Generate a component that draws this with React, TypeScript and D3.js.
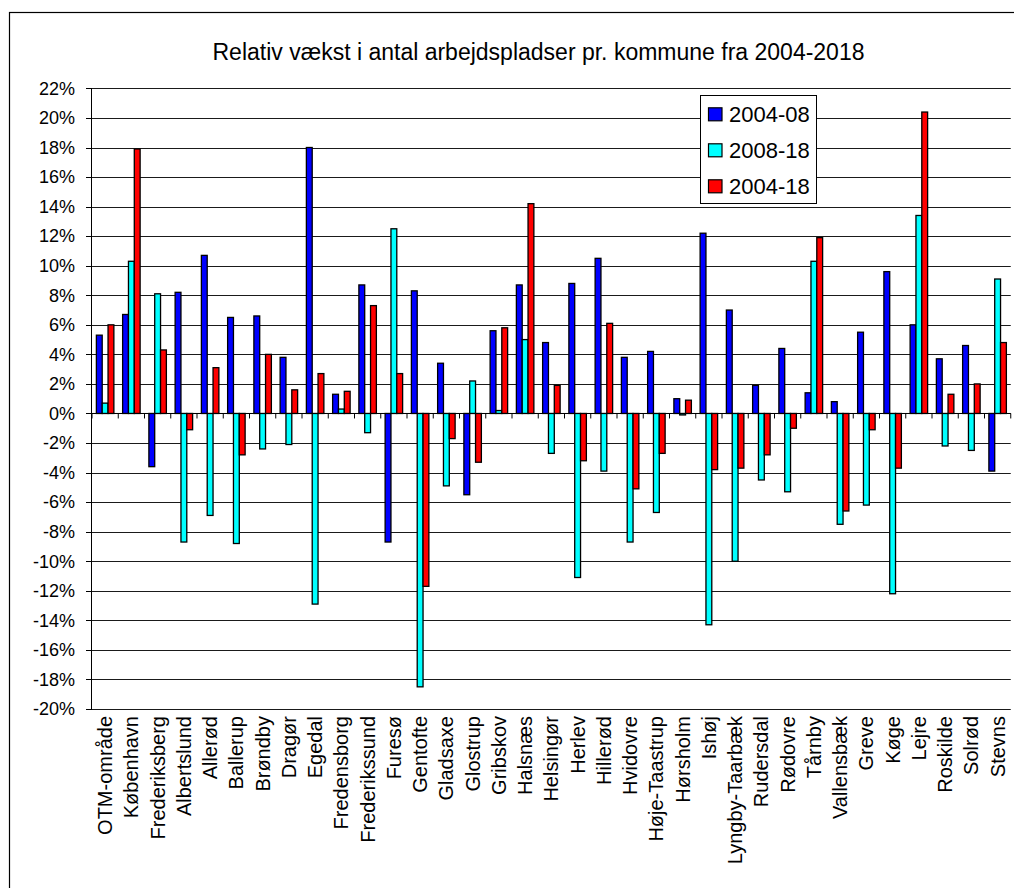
import React from "react";
import * as d3 from "d3";

const categories = [
  "OTM-område", "København", "Frederiksberg", "Albertslund", "Allerød", "Ballerup", "Brøndby",
  "Dragør", "Egedal", "Fredensborg", "Frederikssund", "Furesø", "Gentofte", "Gladsaxe",
  "Glostrup", "Gribskov", "Halsnæs", "Helsingør", "Herlev", "Hillerød", "Hvidovre",
  "Høje-Taastrup", "Hørsholm", "Ishøj", "Lyngby-Taarbæk", "Rudersdal", "Rødovre", "Tårnby",
  "Vallensbæk", "Greve", "Køge", "Lejre", "Roskilde", "Solrød", "Stevns",
];

const s2004_08 = [
  5.3, 6.7, -3.6, 8.2, 10.7, 6.5, 6.6, 3.8, 18.0, 1.3, 8.7, -8.7, 8.3, 3.4, -5.5, 5.6, 8.7, 4.8,
  8.8, 10.5, 3.8, 4.2, 1.0, 12.2, 7.0, 1.9, 4.4, 1.4, 0.8, 5.5, 9.6, 6.0, 3.7, 4.6, -3.9,
];
const s2008_18 = [
  0.7, 10.3, 8.1, -8.7, -6.9, -8.8, -2.4, -2.1, -12.9, 0.3, -1.3, 12.5, -18.5, -4.9, 2.2, 0.2, 5.0, -2.7,
  -11.1, -3.9, -8.7, -6.7, -0.1, -14.3, -10.0, -4.5, -5.3, 10.3, -7.5, -6.2, -12.2, 13.4, -2.2, -2.5, 9.1,
];
const s2004_18 = [
  6.0, 17.9, 4.3, -1.1, 3.1, -2.8, 4.0, 1.6, 2.7, 1.5, 7.3, 2.7, -11.7, -1.7, -3.3, 5.8, 14.2, 1.9,
  -3.2, 6.1, -5.1, -2.7, 0.9, -3.8, -3.7, -2.8, -1.0, 11.9, -6.6, -1.1, -3.7, 20.4, 1.3, 2.0, 4.8,
];

const seriesNames = ["2004-08", "2008-18", "2004-18"];
const seriesColors = ["#0000FF", "#00FFFF", "#FF0000"];
const yTicks = d3.range(-20, 23, 2);
const title = "Relativ vækst i antal arbejdspladser pr. kommune fra 2004-2018";

const FONT = "'Liberation Sans', Arial, Helvetica, sans-serif";

export default function App() {
  const W = 1014;
  const H = 888;
  const left = 92;
  const right = 1010.75;
  const top = 88.4;
  const bottom = 709;

  const y = d3.scaleLinear().domain([-20, 22]).range([bottom, top]);
  const x0 = d3.scaleBand<string>().domain(categories).range([left, right]).paddingInner(0).paddingOuter(0);
  const x1 = d3
    .scaleBand<string>()
    .domain(seriesNames)
    .range([0, x0.bandwidth()])
    .paddingInner(0)
    .paddingOuter(0.75);

  const seriesData = [s2004_08, s2008_18, s2004_18];
  const y0 = y(0);

  return (
    <svg
      width={W}
      height={H}
      style={{ position: "absolute", left: 0, top: 0, background: "#fff" }}
      fontFamily={FONT}
    >
      <rect x={0} y={0} width={W} height={H} fill="#fff" />
      <rect x={9.5} y={12.5} width={1040} height={920} fill="#fff" stroke="#000" strokeWidth={1.2} />

      <text x={538.5} y={60} textAnchor="middle" fontSize={23} fill="#000">
        {title}
      </text>

      {/* gridlines */}
      {yTicks.map((t) => (
        <line
          key={"g" + t}
          x1={left}
          x2={right}
          y1={Math.round(y(t)) + 0.5}
          y2={Math.round(y(t)) + 0.5}
          stroke="#1a1a1a"
          strokeWidth={1}
        />
      ))}

      {/* y axis */}
      <line x1={left - 0.5} x2={left - 0.5} y1={y(22)} y2={y(-20)} stroke="#000" strokeWidth={1} />
      {yTicks.map((t) => (
        <g key={"t" + t}>
          <line
            x1={left - 6}
            x2={left}
            y1={Math.round(y(t)) + 0.5}
            y2={Math.round(y(t)) + 0.5}
            stroke="#000"
            strokeWidth={1}
          />
          <text x={75} y={y(t)} dy="0.35em" textAnchor="end" fontSize={18} fill="#000">
            {t + "%"}
          </text>
        </g>
      ))}

      {/* bars */}
      {categories.map((c, i) => (
        <g key={"c" + i} transform={`translate(${x0(c)},0)`}>
          {seriesData.map((s, k) => {
            const v = s[i];
            const yy = y(Math.max(0, v));
            const h = Math.abs(y(v) - y0);
            return (
              <rect
                key={k}
                x={x1(seriesNames[k])}
                y={yy}
                width={x1.bandwidth()}
                height={h}
                fill={seriesColors[k]}
                stroke="#000"
                strokeWidth={1.3}
              />
            );
          })}
        </g>
      ))}

      {/* category axis at zero */}
      <line x1={left} x2={right} y1={y0} y2={y0} stroke="#000" strokeWidth={1} />
      {d3.range(categories.length + 1).map((i) => {
        const xx = left + i * x0.step();
        return <line key={"ct" + i} x1={xx} x2={xx} y1={y0} y2={y0 + 5} stroke="#000" strokeWidth={1} />;
      })}

      {/* category labels */}
      {categories.map((c) => {
        const cx = (x0(c) as number) + x0.bandwidth() / 2;
        return (
          <text
            key={"l" + c}
            transform={`translate(${cx},716) rotate(-90)`}
            textAnchor="end"
            dy="0.35em"
            fontSize={20}
            fill="#000"
          >
            {c}
          </text>
        );
      })}

      {/* legend */}
      <rect x={700.5} y={95.5} width={116} height={108} fill="#fff" stroke="#000" strokeWidth={1} />
      {seriesNames.map((n, k) => {
        const cy = 114.3 + k * 36;
        return (
          <g key={"lg" + n}>
            <rect x={708.5} y={cy - 6.5} width={13.5} height={13} fill={seriesColors[k]} stroke="#000" strokeWidth={1.2} />
            <text x={729} y={cy} dy="0.35em" fontSize={22} fill="#000">
              {n}
            </text>
          </g>
        );
      })}
    </svg>
  );
}
